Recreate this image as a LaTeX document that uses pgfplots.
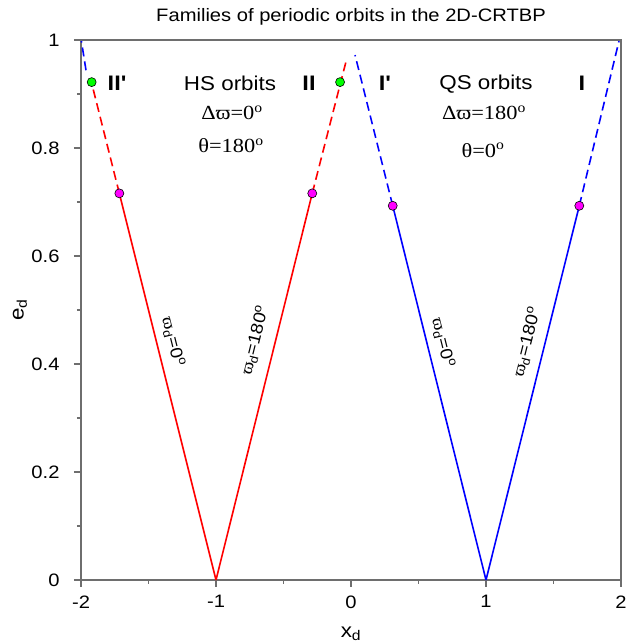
\documentclass[border=0pt]{standalone}
\usepackage{fontspec}
\setmainfont{Liberation Sans}[FakeStretch=1.12]
\newfontfamily\tms{Liberation Serif}[FakeStretch=1.12]
\newfontfamily\lbl{Liberation Sans}[FakeStretch=1.12, Ligatures=TeXOff]
\usepackage{pgfplots}
\pgfplotsset{compat=1.18}
\definecolor{axgray}{HTML}{6E6E6E}
\definecolor{mag}{HTML}{FF00FF}
\definecolor{grn}{HTML}{00FF00}
\begin{document}
\begin{tikzpicture}
\begin{axis}[
  width=540pt, height=540pt, scale only axis,
  xmin=-2, xmax=2, ymin=0, ymax=1,
  xtick={-2,-1,0,1,2}, minor xtick={-1.5,-0.5,0.5,1.5},
  ytick={0,0.2,0.4,0.6,0.8,1}, minor ytick={0.1,0.3,0.5,0.7,0.9},
  tick align=outside, tick pos=left,
  major tick length=7pt, minor tick length=4pt,
  axis line style={draw=axgray, line width=1.2pt},
  tick style={draw=axgray, line width=1.2pt},
  /pgf/number format/assume math mode=true,
  ticklabel style={font=\fontsize{18}{20}\selectfont},
  yticklabel style={xshift=-11pt},
  xticklabel style={yshift=-5pt},
  title={Families of periodic orbits in the 2D-CRTBP},
  title style={at={(axis description cs:0.5,1.024)}, anchor=base, font=\fontsize{18}{20}\selectfont},
  xlabel={x\textsubscript{d}},
  ylabel={e\textsubscript{d}},
  xlabel style={at={(axis description cs:0.5,-0.106)}, anchor=base, font=\fontsize{20}{22}\selectfont},
  ylabel style={at={(axis description cs:-0.113,0.5)}, anchor=center, font=\fontsize{20}{22}\selectfont},
  clip=false,
]
% red family (HS)
\addplot[red, line width=1.6pt] coordinates {(-1,0) (-1.716,0.716)};
\addplot[red, line width=1.6pt, dash pattern=on 9pt off 5pt] coordinates {(-1.716,0.716) (-1.913,0.912)};
\addplot[red, line width=1.6pt] coordinates {(-1,0) (-0.287,0.716)};
\addplot[red, line width=1.6pt, dash pattern=on 9pt off 5pt] coordinates {(-0.287,0.716) (-0.037,0.960)};
% blue family (QS)
\addplot[blue, line width=1.6pt] coordinates {(1,0) (0.309,0.693)};
\addplot[blue, line width=1.6pt, dash pattern=on 9pt off 5pt] coordinates {(0.309,0.693) (0.030,0.972)};
\addplot[blue, line width=1.6pt] coordinates {(1,0) (1.691,0.693)};
\addplot[blue, line width=1.6pt, dash pattern=on 9pt off 5pt] coordinates {(1.691,0.693) (1.985,0.998)};
\addplot[blue, line width=1.6pt, dash pattern=on 9pt off 5pt] coordinates {(-1.963,0.944) (-1.997,0.998)};
% markers
\addplot[only marks, mark=*, mark size=4.5pt, mark options={fill=mag, draw=black, line width=0.6pt}] coordinates {(-1.716,0.716) (-0.287,0.716) (0.309,0.693) (1.691,0.693)};
\addplot[only marks, mark=*, mark size=4.5pt, mark options={fill=grn, draw=black, line width=0.6pt}] coordinates {(-1.921,0.922) (-0.081,0.922)};
% annotations
\node[font=\lbl\bfseries\fontsize{21}{24}\selectfont] at (axis cs:-1.733,0.919) {II'};
\node[font=\fontsize{20}{24}\selectfont] at (axis cs:-0.896,0.919) {HS orbits};
\node[font=\tms\fontsize{20}{22}\selectfont] at (axis cs:-0.881,0.865) {Δϖ=0\textsuperscript{o}};
\node[font=\tms\fontsize{20}{22}\selectfont] at (axis cs:-0.889,0.804) {θ=180\textsuperscript{o}};
\node[font=\lbl\bfseries\fontsize{21}{24}\selectfont] at (axis cs:-0.311,0.919) {II};
\node[font=\lbl\bfseries\fontsize{21}{24}\selectfont] at (axis cs:0.252,0.919) {I'};
\node[font=\fontsize{20}{24}\selectfont] at (axis cs:1.0,0.919) {QS orbits};
\node[font=\tms\fontsize{20}{22}\selectfont] at (axis cs:0.985,0.865) {Δϖ=180\textsuperscript{o}};
\node[font=\tms\fontsize{20}{22}\selectfont] at (axis cs:0.978,0.796) {θ=0\textsuperscript{o}};
\node[font=\lbl\bfseries\fontsize{21}{24}\selectfont] at (axis cs:1.711,0.919) {I};
% rotated labels
\node[rotate=-76, font=\fontsize{17}{20}\selectfont] at (axis cs:-1.319,0.441) {{\tms ϖ}\textsubscript{d}=0\textsuperscript{o}};
\node[rotate=76, font=\fontsize{17}{20}\selectfont] at (axis cs:-0.711,0.444) {{\tms ϖ}\textsubscript{d}=180\textsuperscript{o}};
\node[rotate=-76, font=\fontsize{17}{20}\selectfont] at (axis cs:0.681,0.439) {{\tms ϖ}\textsubscript{d}=0\textsuperscript{o}};
\node[rotate=76, font=\fontsize{17}{20}\selectfont] at (axis cs:1.304,0.441) {{\tms ϖ}\textsubscript{d}=180\textsuperscript{o}};
\end{axis}
\pgfresetboundingbox
\path ([shift={(-81pt,-64pt)}]current axis.south west) rectangle ([shift={(7pt,40pt)}]current axis.north east);
\end{tikzpicture}
\end{document}
